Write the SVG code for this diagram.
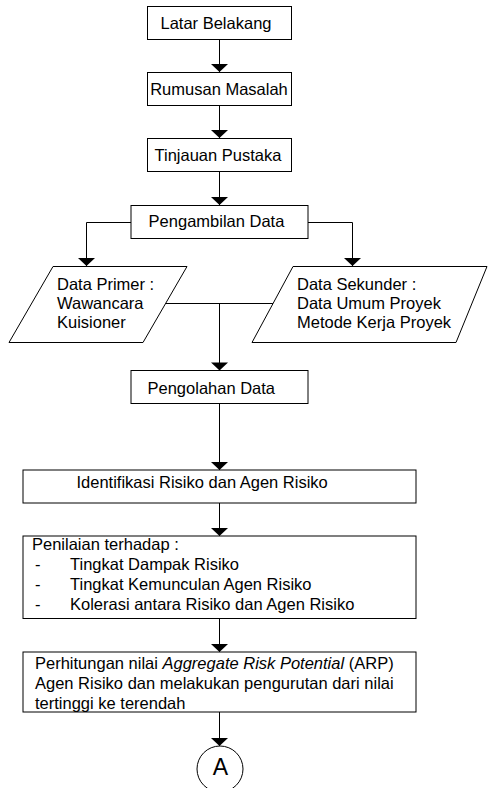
<svg xmlns="http://www.w3.org/2000/svg" width="488" height="788" viewBox="0 0 488 788">
<style>
.box{fill:#fff;stroke:#000;stroke-width:1}
.t{font-family:"Liberation Sans",Arial,sans-serif;font-size:16.5px;fill:#000}
.c{text-anchor:middle}
.ln{fill:none;stroke:#000;stroke-width:1}
</style>
<defs>
<marker id="ah" viewBox="-9 -9 10 18" refX="0" refY="0" markerWidth="10" markerHeight="18" markerUnits="userSpaceOnUse" orient="auto">
<path d="M0,0 L-8,-8.5 L-8,8.5 z" fill="#000"/>
</marker>
</defs>
<g id="connectors">
<path class="ln" d="M219.5,39 V72" marker-end="url(#ah)"/>
<path class="ln" d="M219.5,105 V138" marker-end="url(#ah)"/>
<path class="ln" d="M219.5,172 V205" marker-end="url(#ah)"/>
<path class="ln" d="M131,222.5 H86.5 V266" marker-end="url(#ah)"/>
<path class="ln" d="M308,222.5 H352.5 V266" marker-end="url(#ah)"/>
<path class="ln" d="M166,303.5 H273"/>
<path class="ln" d="M219.5,303.5 V370.5" marker-end="url(#ah)"/>
<path class="ln" d="M219.5,403 V470" marker-end="url(#ah)"/>
<path class="ln" d="M219.5,503 V536" marker-end="url(#ah)"/>
<path class="ln" d="M219.5,619 V652" marker-end="url(#ah)"/>
<path class="ln" d="M219.5,712 V746" marker-end="url(#ah)"/>
</g>
<g id="latar">
<rect class="box" x="147.5" y="6.5" width="144" height="33"/>
<text class="t c" x="216" y="28.5">Latar Belakang</text>
</g>
<g id="rumusan">
<rect class="box" x="147.5" y="72.5" width="144" height="33"/>
<text class="t c" x="219" y="95">Rumusan Masalah</text>
</g>
<g id="tinjauan">
<rect class="box" x="147.5" y="138.5" width="144" height="33"/>
<text class="t c" x="218" y="161">Tinjauan Pustaka</text>
</g>
<g id="pengambilan">
<rect class="box" x="131" y="205.5" width="177" height="33"/>
<text class="t c" x="216.5" y="227">Pengambilan Data</text>
</g>
<g id="primer">
<polygon class="box" points="53,266.5 187,266.5 143,342.5 9,342.5"/>
<text class="t" x="57" y="290">Data Primer :</text>
<text class="t" x="57" y="309">Wawancara</text>
<text class="t" x="57" y="328">Kuisioner</text>
</g>
<g id="sekunder">
<polygon class="box" points="293,266.5 487,266.5 456,342.5 252,342.5"/>
<text class="t" x="297" y="290">Data Sekunder :</text>
<text class="t" x="297" y="309">Data Umum Proyek</text>
<text class="t" x="297" y="328">Metode Kerja Proyek</text>
</g>
<g id="pengolahan">
<rect class="box" x="131" y="370.5" width="177" height="33"/>
<text class="t" x="147.5" y="394">Pengolahan Data</text>
</g>
<g id="identifikasi">
<rect class="box" x="23" y="470" width="393" height="33"/>
<text class="t" x="76.5" y="488">Identifikasi Risiko dan Agen Risiko</text>
</g>
<g id="penilaian">
<rect class="box" x="23" y="536" width="393" height="82.5"/>
<text class="t" x="32" y="550">Penilaian terhadap :</text>
<text class="t" x="35" y="570">-</text><text class="t" x="70" y="570">Tingkat Dampak Risiko</text>
<text class="t" x="35" y="590">-</text><text class="t" x="70" y="590">Tingkat Kemunculan Agen Risiko</text>
<text class="t" x="35" y="609.5">-</text><text class="t" x="70" y="609.5">Kolerasi antara Risiko dan Agen Risiko</text>
</g>
<g id="perhitungan">
<rect class="box" x="23" y="652" width="393" height="60"/>
<text class="t" x="35" y="668.5">Perhitungan nilai <tspan font-style="italic">Aggregate Risk Potential</tspan> (ARP)</text>
<text class="t" x="35" y="688.5">Agen Risiko dan melakukan pengurutan dari nilai</text>
<text class="t" x="35" y="708.5">tertinggi ke terendah</text>
</g>
<g id="konektorA">
<circle class="box" cx="220" cy="769" r="23"/>
<text class="t c" x="220.5" y="775" style="font-size:23px">A</text>
</g>
</svg>
